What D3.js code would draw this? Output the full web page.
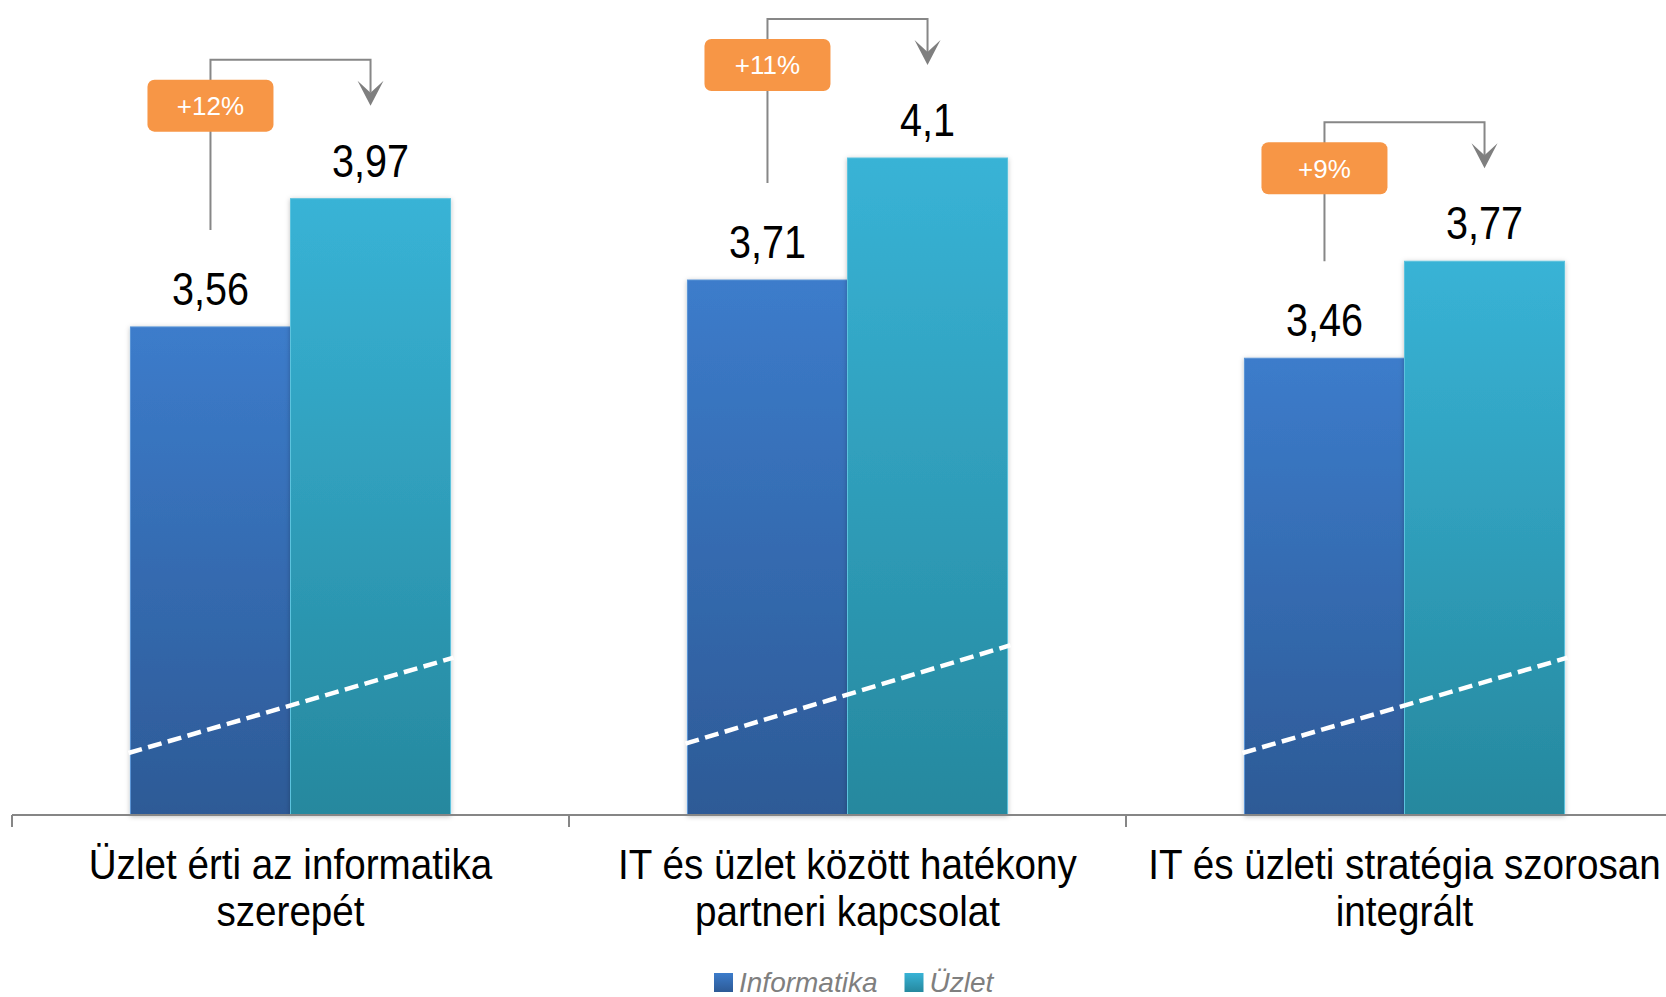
<!DOCTYPE html>
<html>
<head>
<meta charset="utf-8">
<script src="https://cdn.jsdelivr.net/npm/d3@7"></script>
<style>
  html, body { margin: 0; padding: 0; background: #fff; }
  svg { display: block; }
  text { font-family: "Liberation Sans", Arial, sans-serif; }
</style>
</head>
<body>
<svg id="chart" width="1666" height="997"></svg>
<script>
// ---- data ----
const categories = [
  "Üzlet érti az informatika\nszerepét",
  "IT és üzlet között hatékony\npartneri kapcsolat",
  "IT és üzleti stratégia szorosan\nintegrált"
];
const seriesNames = ["Informatika", "Üzlet"];
const informatika = [3.56, 3.71, 3.46];
const uzlet = [3.97, 4.1, 3.77];
// axis-break marker (value at left / right edge of each group)
const breakFrom = [2.2, 2.23, 2.2];
const breakTo = [2.5, 2.54, 2.5];

// ---- setup ----
const W = 1666, H = 997;
const svg = d3.select("#chart");
const baseY = 815;
const unit = 312.86;

const x0 = d3.scaleBand().domain(categories).range([12, 12 + 3 * 557]).paddingInner(0).paddingOuter(0);
const x1 = d3.scaleBand().domain(seriesNames).range([0, x0.bandwidth()]).paddingInner(0).paddingOuter(0.74);
const y = d3.scaleLinear().domain([2, 4.5]).range([baseY, baseY - 2.5 * unit]);

const locale = d3.formatLocale({ decimal: ",", thousands: " ", grouping: [3], currency: ["", ""] });
const fmt = locale.format("~g");

const colors = {
  "Informatika": ["#3C7CCB", "#2D5A96"],
  "Üzlet": ["#38B3D6", "#26889E"]
};
const strokes = { "Informatika": "#5A95D6", "Üzlet": "#5CC3DE" };

const defs = svg.append("defs");
seriesNames.forEach((s, i) => {
  const g = defs.append("linearGradient").attr("id", "grad" + i)
    .attr("x1", 0).attr("y1", 0).attr("x2", 0).attr("y2", 1);
  g.append("stop").attr("offset", "0%").attr("stop-color", colors[s][0]);
  g.append("stop").attr("offset", "100%").attr("stop-color", colors[s][1]);
});
const f = defs.append("filter").attr("id", "shadow").attr("x", "-10%").attr("y", "-10%").attr("width", "120%").attr("height", "120%");
f.append("feDropShadow").attr("dx", 0).attr("dy", 1).attr("stdDeviation", 2.5).attr("flood-color", "#000").attr("flood-opacity", 0.25);

const rows = categories.map((c, i) => ({ cat: c, i, vals: [informatika[i], uzlet[i]] }));

// ---- bars ----
const groups = svg.selectAll("g.grp").data(rows).join("g").attr("class", "grp")
  .attr("transform", d => `translate(${x0(d.cat)},0)`);

groups.selectAll("rect").data(d => d.vals.map((v, k) => ({ s: seriesNames[k], v, k })))
  .join("rect")
  .attr("x", d => x1(d.s))
  .attr("y", d => y(d.v))
  .attr("width", x1.bandwidth())
  .attr("height", d => baseY - y(d.v))
  .attr("fill", d => `url(#grad${d.k})`)
  .attr("stroke", d => strokes[d.s])
  .attr("stroke-width", 1)
  .attr("filter", "url(#shadow)");

// axis break dashed lines
groups.append("line")
  .attr("x1", x1("Informatika") - 2)
  .attr("x2", x1("Üzlet") + x1.bandwidth() + 3)
  .attr("y1", d => y(breakFrom[d.i]) + 0.6)
  .attr("y2", d => y(breakTo[d.i]) - 0.9)
  .attr("stroke", "#fff").attr("stroke-width", 4.5)
  .attr("stroke-dasharray", "14 6.5");

// value labels
groups.selectAll("g.val").data(d => d.vals.map((v, k) => ({ s: seriesNames[k], v })))
  .join("g").attr("class", "val")
  .attr("transform", d => `translate(${x1(d.s) + x1.bandwidth() / 2},${y(d.v) - 22}) scale(0.86,1)`)
  .append("text")
  .attr("text-anchor", "middle")
  .attr("font-size", 46)
  .attr("fill", "#000")
  .text(d => fmt(d.v));

// ---- x axis ----
const axis = svg.append("g");
axis.append("line").attr("x1", x0.range()[0]).attr("x2", W).attr("y1", baseY).attr("y2", baseY)
  .attr("stroke", "#868686").attr("stroke-width", 2);
axis.selectAll("line.tick").data(categories.concat(["__end"])).join("line").attr("class", "tick")
  .attr("x1", (d, i) => x0.range()[0] + i * x0.step())
  .attr("x2", (d, i) => x0.range()[0] + i * x0.step())
  .attr("y1", baseY).attr("y2", baseY + 12)
  .attr("stroke", "#868686").attr("stroke-width", 2);

const catLabels = axis.selectAll("g.cat").data(categories).join("g").attr("class", "cat");
catLabels.each(function (c) {
  const lines = c.split("\n");
  lines.forEach((ln, j) => {
    d3.select(this).append("g")
      .attr("transform", `translate(${x0(c) + x0.bandwidth() / 2},${879 + j * 47}) scale(0.92,1)`)
      .append("text")
      .attr("text-anchor", "middle")
      .attr("font-size", 42)
      .attr("fill", "#000")
      .text(ln);
  });
});

// ---- change annotations ----
const ann = svg.append("g");
rows.forEach(d => {
  const xa = x0(d.cat) + x1("Informatika") + x1.bandwidth() / 2;
  const xb = x0(d.cat) + x1("Üzlet") + x1.bandwidth() / 2;
  const yInf = y(d.vals[0]), yUz = y(d.vals[1]);
  const yh = yUz - 139;
  const yTip = yUz - 93;
  const yNotch = yTip - 13;
  const yBot = yInf - 97;
  ann.append("path")
    .attr("d", `M${xa},${yBot}V${yh}H${xb}V${yNotch}`)
    .attr("fill", "none").attr("stroke", "#878787").attr("stroke-width", 2);
  ann.append("path")
    .attr("d", `M${xb - 13},${yTip - 25}L${xb},${yTip}L${xb + 13},${yTip - 25}L${xb},${yNotch}Z`)
    .attr("fill", "#7F7F7F");
  const pct = Math.round((d.vals[1] / d.vals[0] - 1) * 100);
  const cy = yh + 46;
  ann.append("rect")
    .attr("x", xa - 63).attr("y", cy - 26).attr("width", 126).attr("height", 52)
    .attr("rx", 7).attr("fill", "#F79646");
  ann.append("text")
    .attr("x", xa).attr("y", cy + 9.5)
    .attr("text-anchor", "middle").attr("font-size", 26).attr("fill", "#fff")
    .text("+" + pct + "%");
});

// ---- legend ----
const legend = svg.append("g");
let lx = 714;
seriesNames.forEach((s, k) => {
  legend.append("rect").attr("x", lx).attr("y", 973).attr("width", 19).attr("height", 19)
    .attr("fill", `url(#grad${k})`);
  const t = legend.append("text").attr("x", lx + 25).attr("y", 992)
    .attr("font-size", 28).attr("font-style", "italic").attr("fill", "#7F7F7F").text(s);
  lx = lx + 25 + t.node().getComputedTextLength() + 27;
});
</script>
</body>
</html>
